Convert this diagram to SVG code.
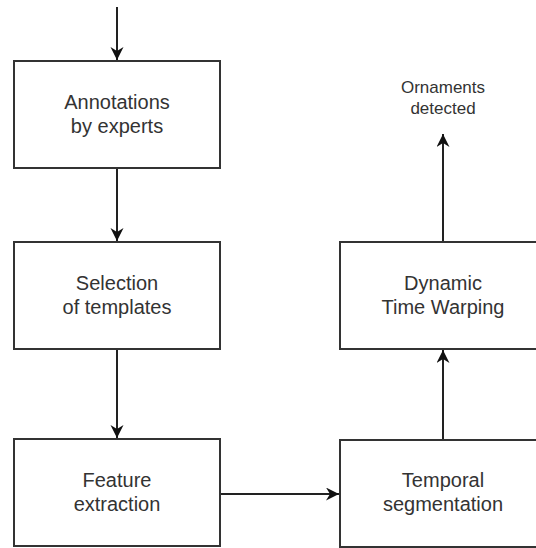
<svg xmlns="http://www.w3.org/2000/svg" width="536" height="548" viewBox="0 0 536 548">
  <style>
    .box { fill: #ffffff; stroke: #333333; stroke-width: 2; }
    .lbl { font-family: "Liberation Sans", Arial, sans-serif; font-size: 20px; fill: #333333; text-anchor: middle; }
    .out { font-family: "Liberation Sans", Arial, sans-serif; font-size: 17px; fill: #333333; text-anchor: middle; }
    .edge { fill: none; stroke: #222222; stroke-width: 2; marker-end: url(#arr); }
  </style>
  <defs>
    <marker id="arr" markerWidth="14" markerHeight="14" refX="13" refY="6.5" orient="auto" markerUnits="userSpaceOnUse">
      <path d="M0,0 L13,6.5 L0,13 L4,6.5 Z" fill="#111111"/>
    </marker>
  </defs>
  <rect width="536" height="548" fill="#ffffff"/>
  <g id="connectors">
    <line class="edge" x1="117" y1="7" x2="117" y2="60"/>
    <line class="edge" x1="117" y1="168" x2="117" y2="241"/>
    <line class="edge" x1="117" y1="349" x2="117" y2="438"/>
    <line class="edge" x1="220" y1="494" x2="339" y2="494"/>
    <line class="edge" x1="443" y1="440" x2="443" y2="350"/>
    <line class="edge" x1="443" y1="242" x2="443" y2="134"/>
  </g>
  <g id="annotations">
    <rect class="box" x="14" y="61" width="206" height="107"/>
    <text class="lbl" x="117" y="109">Annotations</text>
    <text class="lbl" x="117" y="133">by experts</text>
  </g>
  <g id="selection">
    <rect class="box" x="14" y="242" width="206" height="107"/>
    <text class="lbl" x="117" y="290">Selection</text>
    <text class="lbl" x="117" y="314">of templates</text>
  </g>
  <g id="feature">
    <rect class="box" x="14" y="439" width="206" height="107"/>
    <text class="lbl" x="117" y="487">Feature</text>
    <text class="lbl" x="117" y="511">extraction</text>
  </g>
  <g id="temporal">
    <rect class="box" x="340" y="440" width="206" height="107"/>
    <text class="lbl" x="443" y="487">Temporal</text>
    <text class="lbl" x="443" y="511">segmentation</text>
  </g>
  <g id="dtw">
    <rect class="box" x="340" y="242" width="206" height="107"/>
    <text class="lbl" x="443" y="290">Dynamic</text>
    <text class="lbl" x="443" y="314">Time Warping</text>
  </g>
  <g id="output">
    <text class="out" x="443" y="93">Ornaments</text>
    <text class="out" x="443" y="114">detected</text>
  </g>
</svg>
